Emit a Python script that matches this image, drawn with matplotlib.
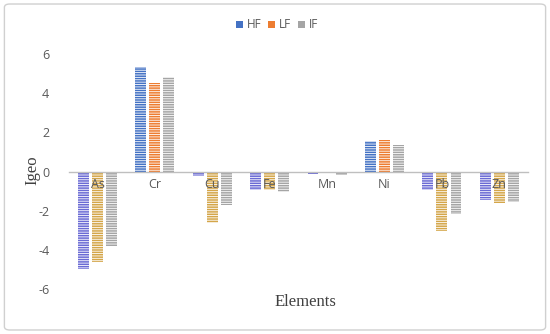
import matplotlib as mpl
import matplotlib.pyplot as plt
import numpy as np
from matplotlib.patches import FancyBboxPatch

mpl.rcParams['font.family'] = ['Open Sans', 'DejaVu Sans']
mpl.rcParams['axes.unicode_minus'] = False
mpl.rcParams['hatch.linewidth'] = 0.6

elements = ['As', 'Cr', 'Cu', 'Fe', 'Mn', 'Ni', 'Pb', 'Zn']
hf = [-5.0, 5.34, -0.24, -0.92, -0.13, 1.57, -0.92, -1.46]
lf = [-4.6, 4.54, -2.65, -0.95, -0.03, 1.62, -3.04, -1.62]
if_ = [-3.8, 4.83, -1.72, -1.03, -0.2, 1.34, -2.16, -1.56]

series = [('HF', hf, '#4472C4', '#6A6AD4'),
          ('LF', lf, '#ED7D31', '#D4A64A'),
          ('IF', if_, '#A5A5A5', '#A5A5A5')]

fig = plt.figure(figsize=(5.5, 3.34), dpi=100)
ax = fig.add_axes([0.125, 0.135, 0.835, 0.703])

x = np.arange(len(elements))
w = 0.19
step = 0.245
for k, (name, vals, pos_c, neg_c) in enumerate(series):
    vals = np.array(vals)
    cols = [pos_c if v >= 0 else neg_c for v in vals]
    ax.bar(x + (k - 1) * step, vals, w, color=cols, hatch='-------',
           edgecolor='white', linewidth=0, zorder=1)
    # legend proxy
    ax.bar([0], [0], 0, color=pos_c, label=name)

ax.set_xlim(-0.5, len(elements) - 0.5)
ax.set_ylim(-6, 6)
ax.set_yticks([-6, -4, -2, 0, 2, 4, 6])
ax.tick_params(axis='y', length=0, labelsize=9, labelcolor='#595959', pad=14)
ax.set_xticks(x)
ax.set_xticklabels(elements)
ax.tick_params(axis='x', length=0, labelsize=9, labelcolor='#595959', pad=5)

for s in ['top', 'right', 'left']:
    ax.spines[s].set_visible(False)
ax.spines['bottom'].set_position(('data', 0))
ax.spines['bottom'].set_color('#BFBFBF')
ax.spines['bottom'].set_linewidth(1.0)

fig.text(32 / 550, 1 - 170 / 334, 'Igeo', family='Liberation Serif', fontsize=12,
         color='#404040', rotation=90, ha='center', va='center')
fig.text(0.555, 0.095, 'Elements', family='Liberation Serif', fontsize=12,
         color='#404040', ha='center', va='center')

leg = fig.legend(loc='center', bbox_to_anchor=(277 / 550, 1 - 25 / 334), ncol=3,
                 frameon=False, fontsize=8.5, handlelength=0.6, handleheight=0.6,
                 handletextpad=0.3, columnspacing=0.6)
for t in leg.get_texts():
    t.set_color('#595959')

fig.patches.append(FancyBboxPatch((0.008, 0.012), 0.984, 0.976,
                                  boxstyle='round,pad=0,rounding_size=0.01',
                                  transform=fig.transFigure, fill=False,
                                  edgecolor='#D0D0D0', linewidth=1.0))

fig.savefig('out.png', dpi=100)
